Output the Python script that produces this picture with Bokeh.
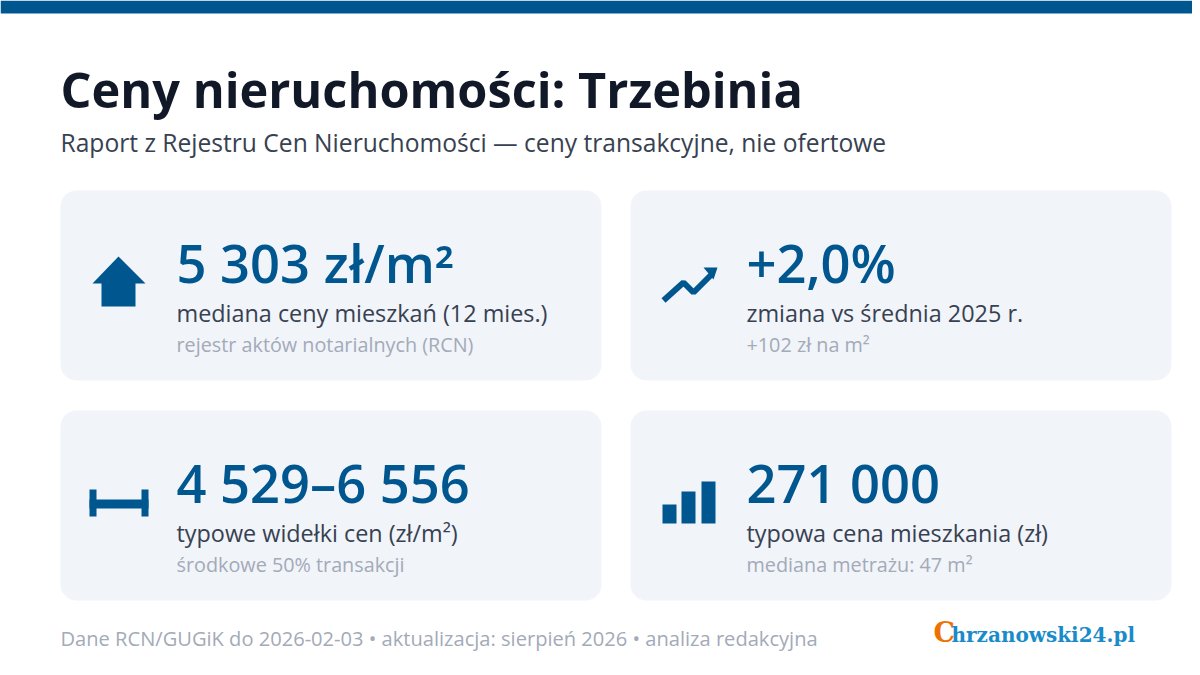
# Requirements: pip3 install bokeh

from bokeh.core.properties import value
from bokeh.embed import file_html
from bokeh.plotting import figure
from bokeh.resources import INLINE

title = "Ceny nieruchomości: Trzebinia"
subtitle = "Raport z Rejestru Cen Nieruchomości — ceny transakcyjne, nie ofertowe"
values = ["5 303 zł/m²", "+2,0%", "4 529–6 556", "271 000"]
labels = ["mediana ceny mieszkań (12 mies.)", "zmiana vs średnia 2025 r.",
          "typowe widełki cen (zł/m²)", "typowa cena mieszkania (zł)"]
notes = ["rejestr aktów notarialnych (RCN)", "+102 zł na m²",
         "środkowe 50% transakcji", "mediana metrażu: 47 m²"]
footer = "Dane RCN/GUGiK do 2026-02-03 • aktualizacja: sierpień 2026 • analiza redakcyjna"

BLUE = "#00568f"
FONT = "Open Sans"

p = figure(width=1192, height=667, x_range=(0, 1192), y_range=(667, 0),
           x_axis_type=None, y_axis_type=None, toolbar_location=None,
           output_backend="svg", min_border=0, outline_line_color=None)
p.grid.visible = False


def txt(x, y, s, size, color, bold=False, font=FONT):
    p.text([x], [y - 0.38 * size], text=[s], text_font=value(font), text_font_size=f"{size}px",
           text_color=color, text_baseline="alphabetic",
           text_font_style="bold" if bold else "normal")


# top band
p.quad(left=[0], right=[1192], top=[0], bottom=[13], fill_color=BLUE, line_color=None)

txt(60, 107, title, 48.7, "#111827", True)
txt(60, 151, subtitle, 24.6, "#374151")

# cards
card_x = [60, 630, 60, 630]
card_y = [190, 190, 410, 410]
text_x = [176, 746, 176, 746]
for i in range(4):
    x, y = card_x[i], card_y[i]
    p.quad(left=[x], right=[x + 541], top=[y], bottom=[y + 190], fill_color="#f1f4f9",
           line_color=None, border_radius=16)
    txt(text_x[i], y + 92, values[i], 52.5, BLUE, False, "Open Sans SemiBold")
    txt(text_x[i], y + 131, labels[i], 23.4, "#374151")
    txt(text_x[i], y + 162, notes[i], 19.8, "#a3aab8")

# house
p.patch([118, 145, 135, 135, 101, 101, 92], [256, 283, 283, 306, 306, 283, 283],
        fill_color=BLUE, line_color=None)

# trend arrow
p.line([663, 683, 693, 712], [300, 282, 292, 273], line_color=BLUE, line_width=6)
p.patch([717, 703, 713], [267, 267, 279], fill_color=BLUE, line_color=None)

# range
p.quad(left=[89, 141, 89], right=[96, 148, 148], top=[489, 489, 499], bottom=[516, 516, 508],
       fill_color=BLUE, line_color=None)

# bars
p.quad(left=[662, 681, 701], right=[676, 695, 715], top=[504, 491, 481], bottom=[523, 523, 523],
       fill_color=BLUE, line_color=None)

txt(60, 646, footer, 20.1, "#a3aab8")

# logo
txt(933, 642, "C", 27, "#ee7203", True, "DejaVu Serif")
txt(951, 642, "hrzanowski24.pl", 20, "#1a8bc9", True, "DejaVu Serif")

open("out.html", "w").write(file_html(p, INLINE))
